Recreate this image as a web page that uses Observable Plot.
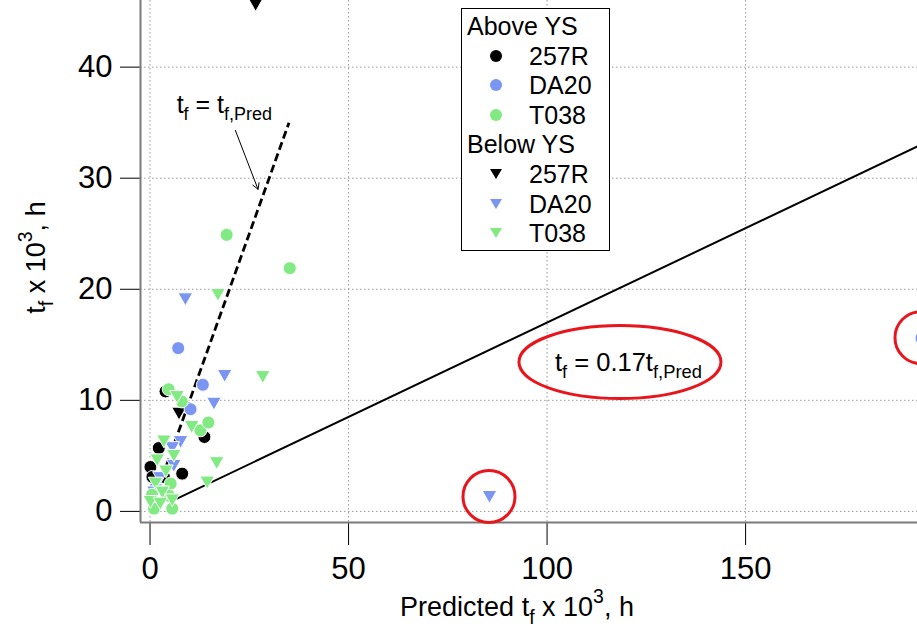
<!DOCTYPE html>
<html>
<head>
<meta charset="utf-8">
<script src="https://cdn.jsdelivr.net/npm/d3@7"></script>
<script src="https://cdn.jsdelivr.net/npm/@observablehq/plot@0.6"></script>
<style>
  html, body { margin: 0; padding: 0; background: #fff; overflow: hidden; }
  #wrap { position: relative; width: 917px; height: 627px; font-family: "Liberation Sans", Arial, Helvetica, sans-serif; }
  #wrap svg { display: block; }
  .legend { position: absolute; left: 461px; top: 8px; width: 149px; height: 243px; box-sizing: border-box;
            border: 1.5px solid #000; background: #fff; padding-top: 3px; font-size: 25px; color: #000; }
  .legend .row { position: relative; height: 29.6px; line-height: 29.6px; white-space: nowrap; }
  .legend .hdr { padding-left: 5px; }
  .legend .sym { position: absolute; left: 26px; top: 6px; }
  .legend .lab { position: absolute; left: 67px; top: 0; }
</style>
</head>
<body>
<div id="wrap"></div>
<script>
// Axis ticks
const xTicks = [0, 50, 100, 150];
const yTicks = [0, 10, 20, 30, 40];
const xDomain = [-2.4, 193.3];
const yDomain = [-1, 46];

// Alloys and their colours
const alloys = ["257R", "DA20", "T038"];
const alloyColors = ["#000000", "#7a95f2", "#82ea82"];

// Rupture life: [predicted t_f, measured t_f], both in 10^3 h
// Tested above yield strength (circles)
const above257R = [[0.1, 4.0], [0.6, 3.1], [3.5, 3.1], [2.2, 5.7], [3.9, 10.8], [8.1, 3.4], [13.7, 6.7]];
const aboveDA20 = [[7.1, 14.7], [13.3, 11.4], [10.2, 9.2], [1.5, 2.2], [194.3, 15.6]];
const aboveT038 = [[19.3, 24.9], [35.2, 21.9], [4.7, 11.0], [8.0, 9.9], [12.7, 7.3], [14.7, 8.0],
                   [5.2, 2.5], [5.6, 0.25], [1.0, 0.25], [4.8, 1.4], [0.5, 1.5]];
// Tested below yield strength (down triangles)
const below257R = [[7.3, 8.8], [26.6, 45.6]];
const belowDA20 = [[8.9, 19.1], [18.8, 12.2], [16.1, 9.7], [7.7, 6.25], [5.6, 5.7], [6.0, 4.1],
                   [1.0, 1.7], [2.5, 3.0], [85.5, 1.3]];
const belowT038 = [[17.1, 19.5], [28.4, 12.1], [6.8, 10.3], [10.5, 7.6], [3.5, 6.3], [6.0, 5.0],
                   [1.8, 4.6], [16.8, 4.35], [14.4, 2.6], [1.4, 2.5], [3.1, 1.7], [5.6, 1.0],
                   [0.1, 0.85], [2.6, 0.7], [4.0, 3.6]];

// Reference lines: t_f = t_f,Pred and the fitted t_f = 0.17 t_f,Pred
const fitSlope = 0.17;
const unityRange = [0, 35];
const fitRange = [6, 200];

// Annotations (data coordinates)
const unityLabel = {x: 6.7, y: 36.6, text: "t_{f} = t_{f,Pred}"};
const unityArrow = {x1: 21.5, y1: 34.3, x2: 27.2, y2: 29.0};
const fitLabel = {x: 120.5, y: 13.4, text: "t_{f} = 0.17t_{f,Pred}"};

const xLabel = "Predicted t_{f} x 10^{3}, h";
const yLabel = "t_{f} x 10^{3}, h";

const groups = [
  {name: "Above YS", shape: "circle", sets: [above257R, aboveDA20, aboveT038]},
  {name: "Below YS", shape: "triangle", sets: [below257R, belowDA20, belowT038]}
];

// Downward-pointing triangle symbol
const triangleDown = {
  draw(context, size) {
    const r = Math.sqrt(size / Math.PI);
    const w = r * 1.05, h = r * 0.92;
    context.moveTo(-w, -h);
    context.lineTo(w, -h);
    context.lineTo(0, h);
    context.closePath();
  }
};

const font = '"Liberation Sans", Arial, Helvetica, sans-serif';

// Red highlight rings around the outliers and the fit equation
const outliers = [...aboveDA20, ...belowDA20].filter(d => d[0] > 50);
const highlights = (index, scales) => {
  const g = d3.create("svg:g").attr("fill", "none").attr("stroke", "#e8161c").attr("stroke-width", 3);
  for (const [p, t] of outliers) {
    g.append("circle").attr("cx", scales.x(p)).attr("cy", scales.y(t)).attr("r", 26);
  }
  g.append("ellipse")
    .attr("cx", scales.x(fitLabel.x) - 8).attr("cy", scales.y(fitLabel.y))
    .attr("rx", 101).attr("ry", 36.5);
  return g.node();
};

const dotMarks = [];
alloys.forEach((a, i) => {
  groups.forEach(gr => {
    const circle = gr.shape === "circle";
    dotMarks.push(Plot.dot(gr.sets[i], {
      x: d => d[0], y: d => d[1],
      r: circle ? 6.5 : 7,
      symbol: circle ? "circle" : triangleDown,
      fill: alloyColors[i], stroke: "white", strokeWidth: 1
    }));
  });
});

const chart = Plot.plot({
  width: 917, height: 627,
  marginLeft: 140, marginRight: 0, marginTop: 0, marginBottom: 105,
  style: {fontFamily: font, fontSize: "31px", background: "white", color: "#000", overflow: "hidden"},
  x: {domain: xDomain, ticks: xTicks, tickSize: 23, tickPadding: 11, label: null},
  y: {domain: yDomain, ticks: yTicks, tickSize: 20, tickPadding: 8, label: null},
  marks: [
    Plot.ruleX(xTicks, {stroke: "#9a9a9a", strokeWidth: 1, strokeDasharray: "1.5,2.5"}),
    Plot.ruleY(yTicks, {stroke: "#9a9a9a", strokeWidth: 1, strokeDasharray: "1.5,2.5"}),
    Plot.ruleX([xDomain[0]], {stroke: "#7a7a7a", strokeWidth: 2}),
    Plot.ruleY([yDomain[0]], {stroke: "#7a7a7a", strokeWidth: 2}),
    Plot.link([fitRange], {x1: d => d[0], y1: d => fitSlope * d[0], x2: d => d[1], y2: d => fitSlope * d[1],
      stroke: "#000", strokeWidth: 2}),
    Plot.link([unityRange], {x1: d => d[0], y1: d => d[0], x2: d => d[1], y2: d => d[1],
      stroke: "#000", strokeWidth: 2.8, strokeDasharray: "8,4"}),
    ...dotMarks,
    Plot.arrow([unityArrow], {x1: "x1", y1: "y1", x2: "x2", y2: "y2", stroke: "#000", strokeWidth: 1, headLength: 10}),
    Plot.text([unityLabel], {x: "x", y: "y", text: "text", textAnchor: "start", fontSize: 25, fill: "#000"}),
    Plot.text([fitLabel], {x: "x", y: "y", text: "text", textAnchor: "middle", fontSize: 25.5, fill: "#000"}),
    highlights,
    Plot.text([xLabel], {text: d => d, frameAnchor: "bottom", textAnchor: "middle", dy: 93, dx: -12, fontSize: 27, fill: "#000"}),
    Plot.text([yLabel], {text: d => d, frameAnchor: "left", textAnchor: "middle", rotate: -90, dx: -104, dy: -4, fontSize: 27, fill: "#000"})
  ]
});

const wrap = document.getElementById("wrap");
wrap.appendChild(chart);

// Turn _{...} and ^{...} markup into subscript / superscript tspans
d3.select(chart).selectAll("text").each(function () {
  const src = this.textContent;
  if (!/[_^]\{/.test(src)) return;
  const size = parseFloat(getComputedStyle(this).fontSize) || 20;
  const segs = [];
  const re = /(_|\^)\{([^}]*)\}/g;
  let last = 0, m;
  while ((m = re.exec(src))) {
    if (m.index > last) segs.push({kind: "base", text: src.slice(last, m.index)});
    segs.push({kind: m[1] === "_" ? "sub" : "sup", text: m[2]});
    last = re.lastIndex;
  }
  if (last < src.length) segs.push({kind: "base", text: src.slice(last)});
  this.textContent = "";
  let prev = 0;
  for (const s of segs) {
    const shift = s.kind === "sub" ? 0.3 * size : s.kind === "sup" ? -0.48 * size : 0;
    const t = d3.select(this).append("tspan").text(s.text);
    if (shift !== prev) t.attr("dy", shift - prev);
    if (s.kind !== "base") t.attr("font-size", size * 0.72);
    prev = shift;
  }
});

// Legend
const legend = document.createElement("div");
legend.className = "legend";
groups.forEach(gr => {
  const h = document.createElement("div");
  h.className = "row hdr";
  h.textContent = gr.name;
  legend.appendChild(h);
  alloys.forEach((a, i) => {
    const row = document.createElement("div");
    row.className = "row";
    const shape = gr.shape === "circle"
      ? `<circle cx="8" cy="8" r="6" fill="${alloyColors[i]}"/>`
      : `<path d="M2,3 L14,3 L8,13 Z" fill="${alloyColors[i]}"/>`;
    row.innerHTML = `<svg class="sym" width="16" height="16">${shape}</svg><span class="lab">${a}</span>`;
    legend.appendChild(row);
  });
});
wrap.appendChild(legend);
</script>
</body>
</html>
